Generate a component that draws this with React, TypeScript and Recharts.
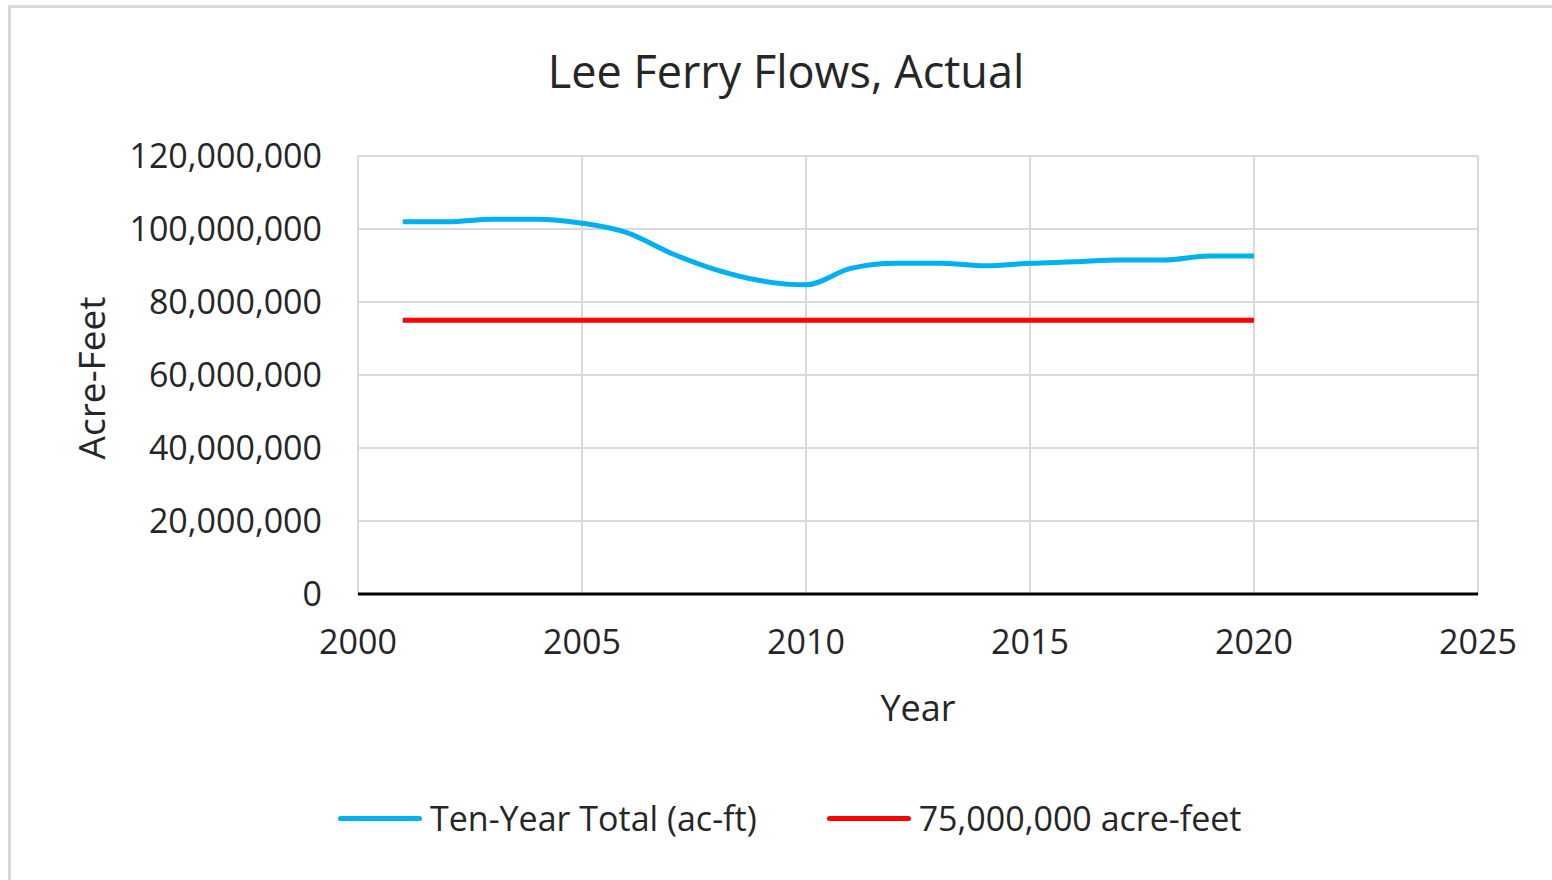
import React from 'react'
import { LineChart, Line, XAxis, YAxis, CartesianGrid, Legend } from 'recharts'

const years = [2001, 2002, 2003, 2004, 2005, 2006, 2007, 2008, 2009, 2010, 2011, 2012, 2013, 2014, 2015, 2016, 2017, 2018, 2019, 2020]
const tenYearTotal = [
  102000000, 102000000, 102700000, 102700000, 101600000, 99000000, 93300000, 88800000, 85800000, 84700000,
  89200000, 90600000, 90600000, 89900000, 90600000, 91000000, 91500000, 91500000, 92600000, 92600000,
]
const compactLine = [
  75000000, 75000000, 75000000, 75000000, 75000000, 75000000, 75000000, 75000000, 75000000, 75000000,
  75000000, 75000000, 75000000, 75000000, 75000000, 75000000, 75000000, 75000000, 75000000, 75000000,
]
const seriesNames = ['Ten-Year Total (ac-ft)', '75,000,000 acre-feet']
const xTicks = [2000, 2005, 2010, 2015, 2020, 2025]
const yTicks = [0, 20000000, 40000000, 60000000, 80000000, 100000000, 120000000]

const FONT = '"Open Sans", "Noto Sans", sans-serif'

const data = years.map((y, i) => ({
  year: y,
  total: tenYearTotal[i],
  compact: compactLine[i],
}))

// plain line swatches like Excel, kept in series order (recharts sorts by name otherwise)
function renderLegend(props: any) {
  const items = [...props.payload].sort(
    (a: any, b: any) => seriesNames.indexOf(a.value) - seriesNames.indexOf(b.value)
  )
  return (
    <div style={{ display: 'flex', alignItems: 'center', gap: 70, fontFamily: FONT, fontSize: 34, color: '#262626' }}>
      {items.map((p: any) => (
        <div key={p.value} style={{ display: 'flex', alignItems: 'center' }}>
          <div style={{ width: 84, height: 5, borderRadius: 3, background: p.color, marginRight: 8 }} />
          <span>{p.value}</span>
        </div>
      ))}
    </div>
  )
}

export default function App() {
  return (
    <div style={{ position: 'absolute', left: 0, top: 0, width: 1552, height: 880, overflow: 'hidden', background: '#fff' }}>
      <div
        style={{
          position: 'absolute',
          left: 8,
          top: 5,
          width: 1620,
          height: 940,
          border: '3px solid #d9d9d9',
        }}
      />
      <div
        style={{
          position: 'absolute',
          left: 0,
          width: 1572,
          top: 40,
          textAlign: 'center',
          fontFamily: FONT,
          fontSize: 45,
          color: '#262626',
        }}
      >
        Lee Ferry Flows, Actual
      </div>
      <div
        style={{
          position: 'absolute',
          left: 90,
          top: 378,
          transform: 'translate(-50%, -50%) rotate(-90deg)',
          fontFamily: FONT,
          fontSize: 37,
          color: '#262626',
          whiteSpace: 'nowrap',
        }}
      >
        Acre-Feet
      </div>
      <div
        style={{
          position: 'absolute',
          left: 918,
          top: 707,
          transform: 'translate(-50%, -50%)',
          fontFamily: FONT,
          fontSize: 36,
          color: '#262626',
        }}
      >
        Year
      </div>
      <div style={{ position: 'absolute', left: 0, top: 0 }}>
        <LineChart width={1552} height={880} data={data} margin={{ top: 156, right: 74, left: 158, bottom: 154 }}>
          <CartesianGrid stroke="#d9d9d9" strokeWidth={2} />
          <XAxis
            dataKey="year"
            type="number"
            domain={[2000, 2025]}
            ticks={xTicks}
            height={132}
            axisLine={{ stroke: '#000', strokeWidth: 3 }}
            tickLine={false}
            tickSize={6}
            tickMargin={30}
            tick={{ fill: '#262626', fontSize: 34, fontFamily: FONT }}
          />
          <YAxis
            type="number"
            domain={[0, 120000000]}
            ticks={yTicks}
            width={200}
            axisLine={false}
            tickLine={false}
            tickSize={6}
            tickMargin={30}
            tickFormatter={(v: number) => v.toLocaleString('en-US')}
            tick={{ fill: '#262626', fontSize: 34, fontFamily: FONT }}
          />
          <Line
            name={seriesNames[0]}
            dataKey="total"
            type="monotone"
            stroke="#00b0f0"
            strokeWidth={5}
            dot={false}
            isAnimationActive={false}
          />
          <Line
            name={seriesNames[1]}
            dataKey="compact"
            type="linear"
            stroke="#ff0000"
            strokeWidth={5}
            dot={false}
            isAnimationActive={false}
          />
          <Legend
            layout="horizontal"
            verticalAlign="middle"
            align="center"
            content={renderLegend}
            wrapperStyle={{ position: 'absolute', left: 338, top: 795, width: 'auto' }}
          />
        </LineChart>
      </div>
    </div>
  )
}
